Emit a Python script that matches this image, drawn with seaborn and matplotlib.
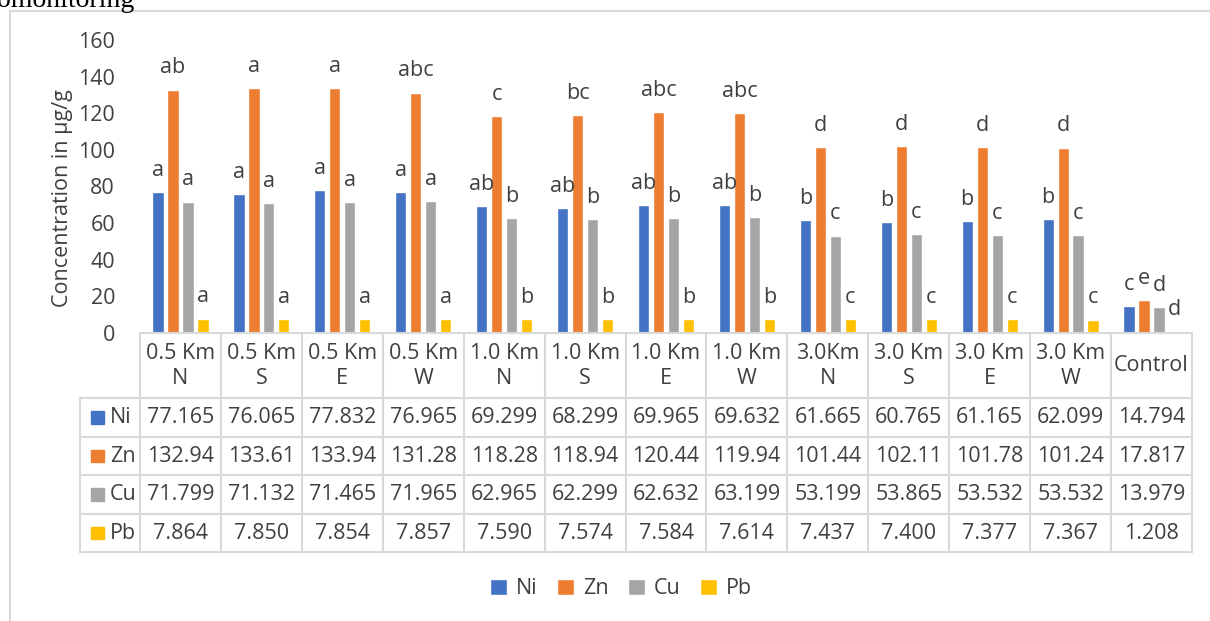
import pandas as pd
import matplotlib.pyplot as plt
import seaborn as sns
from matplotlib.lines import Line2D
from matplotlib.patches import Rectangle
from matplotlib.transforms import blended_transform_factory

# sampling sites and metal concentrations (ug/g)
sites = ['0.5 Km\nN', '0.5 Km\nS', '0.5 Km\nE', '0.5 Km\nW',
         '1.0 Km\nN', '1.0 Km\nS', '1.0 Km\nE', '1.0 Km\nW',
         '3.0Km\nN', '3.0 Km\nS', '3.0 Km\nE', '3.0 Km\nW', 'Control']
metals = ['Ni', 'Zn', 'Cu', 'Pb']
ni = [77.165, 76.065, 77.832, 76.965, 69.299, 68.299, 69.965, 69.632, 61.665, 60.765, 61.165, 62.099, 14.794]
zn = [132.94, 133.61, 133.94, 131.28, 118.28, 118.94, 120.44, 119.94, 101.44, 102.11, 101.78, 101.24, 17.817]
cu = [71.799, 71.132, 71.465, 71.965, 62.965, 62.299, 62.632, 63.199, 53.199, 53.865, 53.532, 53.532, 13.979]
pb = [7.864, 7.850, 7.854, 7.857, 7.590, 7.574, 7.584, 7.614, 7.437, 7.400, 7.377, 7.367, 1.208]

# significance letters above the bars
ni_letters = ['a', 'a', 'a', 'a', 'ab', 'ab', 'ab', 'ab', 'b', 'b', 'b', 'b', 'c']
zn_letters = ['ab', 'a', 'a', 'abc', 'c', 'bc', 'abc', 'abc', 'd', 'd', 'd', 'd', 'e']
cu_letters = ['a', 'a', 'a', 'a', 'b', 'b', 'b', 'b', 'c', 'c', 'c', 'c', 'd']
pb_letters = ['a', 'a', 'a', 'a', 'b', 'b', 'b', 'b', 'c', 'c', 'c', 'c', 'd']

colors = ['#4472C4', '#ED7D31', '#A5A5A5', '#FFC000']
values = [ni, zn, cu, pb]
letters = [ni_letters, zn_letters, cu_letters, pb_letters]

df = pd.DataFrame({
    'site': sites * 4,
    'metal': [m for m in metals for _ in sites],
    'value': ni + zn + cu + pb,
})

sns.set_style('white')
plt.rcParams['font.family'] = ['Open Sans', 'DejaVu Sans']
txt = '#404040'
grid = '#D9D9D9'
fs = 15.5

fig = plt.figure(figsize=(12.1, 6.21), dpi=100)
ax = fig.add_axes([140 / 1210, 1 - 333 / 621, 1052 / 1210, 293 / 621])

sns.barplot(data=df, x='site', y='value', hue='metal', palette=colors,
            width=0.74, gap=0.25, saturation=1, ax=ax)

for cont, labs in zip(ax.containers, letters):
    ax.bar_label(cont, labels=labs, padding=8, fontsize=fs, color=txt)

n = len(sites)
ax.set_ylim(0, 160)
ax.set_yticks(range(0, 161, 20))
ax.tick_params(axis='y', length=0, labelsize=fs, labelcolor=txt, pad=18)
ax.tick_params(axis='x', length=0)
ax.set_xticklabels([])
ax.set_xlabel('')
ax.set_ylabel('Concentration in µg/g', fontsize=fs, color=txt)
ax.yaxis.set_label_coords(-0.064, 0.46)
for s in ['left', 'top', 'right']:
    ax.spines[s].set_visible(False)
ax.spines['bottom'].set_color(grid)
ax.spines['bottom'].set_linewidth(1.5)

sns.move_legend(ax, 'center', bbox_to_anchor=(621 / 1210, 1 - 589 / 621),
                bbox_transform=fig.transFigure, ncol=4, frameon=False, title=None,
                fontsize=fs, handlelength=0.8, handleheight=0.8,
                handletextpad=0.4, columnspacing=0.9)
for t in ax.get_legend().get_texts():
    t.set_color(txt)

# data table under the axis
tr = blended_transform_factory(ax.transData, ax.transAxes)
row_y = [(333 - p) / 293 for p in (333, 398, 437, 475, 514, 552)]
left = -0.5 - 60 / 80.92
lk = dict(color=grid, lw=1.5, transform=tr, clip_on=False, scalex=False, scaley=False)

for k in range(n + 1):
    ax.plot([k - 0.5, k - 0.5], [row_y[0], row_y[-1]], **lk)
ax.plot([left, left], [row_y[1], row_y[-1]], **lk)
for y in row_y[1:]:
    ax.plot([left, n - 0.5], [y, y], **lk)

hdr_y = (row_y[0] + row_y[1]) / 2
for i, s in enumerate(sites):
    ax.text(i, hdr_y, s, transform=tr, ha='center', va='center', fontsize=fs,
            color=txt, linespacing=1.25, clip_on=False)

for r, (m, vals, c) in enumerate(zip(metals, values, colors)):
    yc = (row_y[r + 1] + row_y[r + 2]) / 2
    ax.add_patch(Rectangle((-1.111, yc - 0.022), 0.16, 0.044, color=c,
                           transform=tr, clip_on=False))
    ax.text(-0.871, yc, m, transform=tr, ha='left', va='center', fontsize=fs,
            color=txt, clip_on=False)
    for i, v in enumerate(vals):
        lab = f'{v:.2f}' if v >= 100 else f'{v:.3f}'
        ax.text(i, yc, lab, transform=tr, ha='center', va='center', fontsize=fs,
                color=txt, clip_on=False)

ax.set_xlim(-0.5, n - 0.5)

# outer frame and the cut-off caption of the page
fig.add_artist(Line2D([10 / 1210, 10 / 1210], [0, 1 - 11 / 621], color=grid, lw=1.5))
fig.add_artist(Line2D([10 / 1210, 1], [1 - 11 / 621, 1 - 11 / 621], color=grid, lw=1.5))
fig.text(-3 / 1210, 1 - 7 / 621, 'omonitoring', family='Liberation Serif',
         fontsize=20, va='baseline', color='black')

fig.savefig('out.png', dpi=100)
